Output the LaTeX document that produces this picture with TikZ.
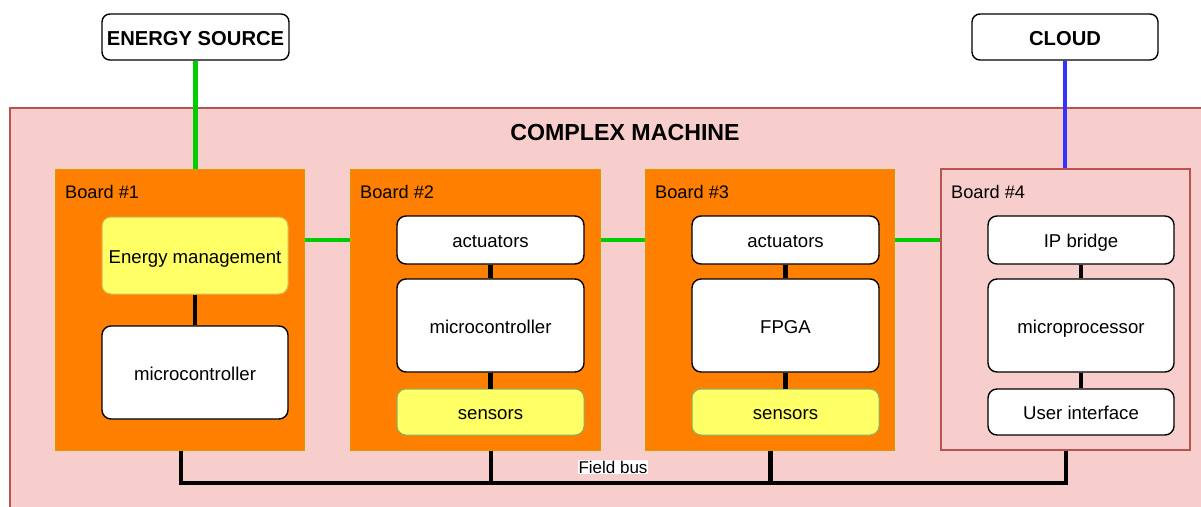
\documentclass[tikz,border=0pt]{standalone}
\usepackage{fontspec}
\setmainfont{Liberation Sans}
\definecolor{machinefill}{HTML}{F8CECC}
\definecolor{machineline}{HTML}{B85450}
\definecolor{boardfill}{HTML}{FF8000}
\definecolor{boardline}{HTML}{D79B00}
\definecolor{partyellow}{HTML}{FFFF66}
\definecolor{partyline}{HTML}{D6B656}
\definecolor{sensline}{HTML}{82B366}
\definecolor{powergreen}{HTML}{00CC00}
\definecolor{netblue}{HTML}{3333FF}
\tikzset{
  x=1pt, y=-1pt,
  board/.style={draw=boardline, fill=boardfill, line width=1pt},
  board4/.style={draw=machineline, fill=machinefill, line width=1.5pt},
  boardlabel/.style={anchor=base west, inner sep=0pt, font=\fontsize{18.2}{20}\selectfont},
  part/.style={draw=black, fill=white, rounded corners=9pt, line width=1.4pt,
    font=\fontsize{18.6}{21}\selectfont, text height=15pt, text depth=0pt},
  yellowpart/.style={part, draw=partyline, fill=partyellow, line width=1pt},
  sensorpart/.style={part, draw=sensline, fill=partyellow, line width=1pt},
  extbox/.style={draw=black, fill=white, rounded corners=8pt, line width=1.4pt,
    font=\bfseries\fontsize{20.2}{23}\selectfont, text height=16pt, text depth=0pt},
  power/.style={draw=powergreen, line width=4.5pt},
  net/.style={draw=netblue, line width=4.5pt},
  wire/.style={draw=black, line width=4.5pt},
}
\newcommand{\boxat}[6]{% name, style, x1, y1, x2, y2 (text passed separately)
  \node[#2, minimum width={#5-#3}, minimum height={#6-#4}, inner sep=0pt]
    (#1) at ({(#3+#5)/2},{(#4+#6)/2})}
\begin{document}
\begin{tikzpicture}
\useasboundingbox (0,0) rectangle (1201,506);
\clip (0,0) rectangle (1201,506);

% the machine enclosure
\node[draw=machineline, fill=machinefill, line width=1.5pt, minimum width=1220pt,
  minimum height=420pt, inner sep=0pt, anchor=north west] (machine) at (9,107) {};
\node[font=\bfseries\fontsize{23.2}{26}\selectfont, text height=16.6pt, text depth=0pt]
  (title) at (625,132) {COMPLEX MACHINE};

% external boxes
\boxat{energy}{extbox}{102}{14}{289}{60} {ENERGY SOURCE};
\boxat{cloud}{extbox}{972}{14}{1158}{60} {CLOUD};

% boards
\boxat{b1}{board}{55}{169}{304}{450} {};
\boxat{b2}{board}{350}{169}{600}{450} {};
\boxat{b3}{board}{645}{169}{894}{450} {};
\boxat{b4}{board4}{941}{169}{1190}{450} {};
\node[boardlabel] (l1) at (65,198) {Board \#1};
\node[boardlabel] (l2) at (360,198) {Board \#2};
\node[boardlabel] (l3) at (655,198) {Board \#3};
\node[boardlabel] (l4) at (951,198) {Board \#4};

% board 1
\boxat{em}{yellowpart}{102}{217}{288}{294} {Energy management};
\boxat{mc1}{part}{102}{326}{288}{419} {microcontroller};
% board 2
\boxat{act2}{part}{397}{216}{584}{264} {actuators};
\boxat{mc2}{part}{397}{279}{584}{372} {microcontroller};
\boxat{sen2}{sensorpart}{397}{389}{584}{435} {sensors};
% board 3
\boxat{act3}{part}{692}{216}{879}{264} {actuators};
\boxat{fpga}{part}{692}{279}{879}{372} {FPGA};
\boxat{sen3}{sensorpart}{692}{389}{879}{435} {sensors};
% board 4
\boxat{ipb}{part}{988}{216}{1174}{264} {IP bridge};
\boxat{mp}{part}{988}{279}{1174}{372} {microprocessor};
\boxat{ui}{part}{988}{389}{1174}{435} {User interface};

% internal links
\draw[wire] (em) -- (mc1);
\draw[wire] (act2) -- (mc2);
\draw[wire] (mc2) -- (sen2);
\draw[wire] (act3) -- (fpga);
\draw[wire] (fpga) -- (sen3);
\draw[wire] (ipb) -- (mp);
\draw[wire] (mp) -- (ui);

% power and network
\draw[power] (energy.south) -- (energy.south |- b1.north);
\draw[power] (b1.east |- 0,240) -- (b2.west |- 0,240);
\draw[power] (b2.east |- 0,240) -- (b3.west |- 0,240);
\draw[power] (b3.east |- 0,240) -- (b4.west |- 0,240);
\draw[net] (cloud.south) -- (cloud.south |- b4.north);

% field bus
\coordinate (bus1) at (181,483);
\coordinate (bus4) at (1066,483);
\draw[wire] (b1.south -| bus1) -- (bus1) -- (bus4) -- (b4.south -| bus4);
\draw[wire] (b2.south) ++(16,0) coordinate (t2) -- (t2 |- bus1);
\draw[wire] (b3.south) ++(1,0) coordinate (t3) -- (t3 |- bus1);
\node[fill=white, inner sep=1pt, font=\fontsize{17}{19}\selectfont] (fb) at (613,467) {Field bus};
\end{tikzpicture}
\end{document}
